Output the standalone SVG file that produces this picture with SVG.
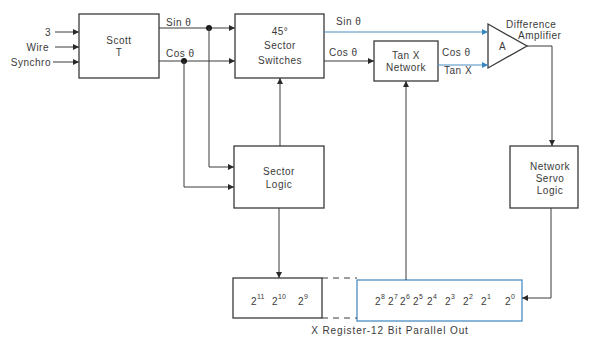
<svg xmlns="http://www.w3.org/2000/svg" width="596" height="346" viewBox="0 0 596 346">
<defs>
<style>
text{font-family:"Liberation Sans",Arial,sans-serif;font-size:10px;fill:#3a3a3a;letter-spacing:0.5px}
.c{text-anchor:middle}
.e{text-anchor:end}
.box{fill:none;stroke:#3a3a3a;stroke-width:1.3}
.bbox{fill:none;stroke:#4a8fc4;stroke-width:1.3}
.ln{fill:none;stroke:#3a3a3a;stroke-width:1}
.bl{fill:none;stroke:#4a8fc4;stroke-width:1.1}
.ds{fill:none;stroke:#3a3a3a;stroke-width:1;stroke-dasharray:6,5}
.sup{font-size:7px;letter-spacing:0}
</style>
<marker id="ah" viewBox="0 0 10 10" refX="10" refY="5" markerWidth="7" markerHeight="6" markerUnits="userSpaceOnUse" orient="auto">
<path d="M0,0L10,5L0,10z" fill="#2a2a2a"/>
</marker>
<marker id="ahb" viewBox="0 0 10 10" refX="10" refY="5" markerWidth="7" markerHeight="6" markerUnits="userSpaceOnUse" orient="auto">
<path d="M0,0L10,5L0,10z" fill="#3a86bd"/>
</marker>
</defs>
<rect width="596" height="346" fill="#ffffff"/>

<g id="inputs">
<text x="51" y="36" class="e">3</text>
<text x="49" y="51" class="e">Wire</text>
<text x="51" y="66" class="e">Synchro</text>
</g>

<g id="scott-t">
<rect x="79" y="14" width="80" height="64" class="box"/>
<text x="119" y="44" class="c">Scott</text>
<text x="119" y="56" class="c">T</text>
</g>

<g id="sector-switches">
<rect x="235" y="14" width="89" height="64" class="box"/>
<text x="280" y="35" class="c">45°</text>
<text x="280" y="49" class="c">Sector</text>
<text x="280" y="64" class="c">Switches</text>
</g>

<g id="tanx-network">
<rect x="374" y="41" width="64" height="40" class="box"/>
<text x="406" y="59" class="c">Tan X</text>
<text x="406" y="71" class="c">Network</text>
</g>

<g id="difference-amplifier">
<path d="M488,24L527,46L488,68z" class="box"/>
<text x="499" y="50">A</text>
<text x="506" y="28">Difference</text>
<text x="518" y="39">Amplifier</text>
</g>

<g id="sector-logic">
<rect x="234" y="146" width="90" height="62" class="box"/>
<text x="279" y="175" class="c">Sector</text>
<text x="279" y="188" class="c">Logic</text>
</g>

<g id="network-servo-logic">
<rect x="510" y="146" width="68" height="62" class="box"/>
<text x="550" y="170" class="c">Network</text>
<text x="550" y="182" class="c">Servo</text>
<text x="550" y="194" class="c">Logic</text>
</g>

<g id="register-high">
<rect x="233" y="278" width="89" height="40" class="box"/>
<text x="251" y="305">2<tspan dy="-6" class="sup">11</tspan></text>
<text x="272" y="305">2<tspan dy="-6" class="sup">10</tspan></text>
<text x="298" y="305">2<tspan dy="-6" class="sup">9</tspan></text>
</g>

<g id="register-low">
<rect x="357" y="280" width="165" height="41" class="bbox"/>
<text x="375" y="305">2<tspan dy="-6" class="sup">8</tspan></text>
<text x="388" y="305">2<tspan dy="-6" class="sup">7</tspan></text>
<text x="400" y="305">2<tspan dy="-6" class="sup">6</tspan></text>
<text x="413" y="305">2<tspan dy="-6" class="sup">5</tspan></text>
<text x="427" y="305">2<tspan dy="-6" class="sup">4</tspan></text>
<text x="445" y="305">2<tspan dy="-6" class="sup">3</tspan></text>
<text x="463" y="305">2<tspan dy="-6" class="sup">2</tspan></text>
<text x="481" y="305">2<tspan dy="-6" class="sup">1</tspan></text>
<text x="505" y="305">2<tspan dy="-6" class="sup">0</tspan></text>
<text x="390" y="334" class="c" style="letter-spacing:0.9px">X Register-12 Bit Parallel Out</text>
</g>

<g id="connectors">
<line x1="55" y1="32" x2="79" y2="32" class="ln" marker-end="url(#ah)"/>
<line x1="55" y1="47" x2="79" y2="47" class="ln" marker-end="url(#ah)"/>
<line x1="53" y1="62" x2="79" y2="62" class="ln" marker-end="url(#ah)"/>

<line x1="159" y1="28" x2="235" y2="28" class="ln" marker-end="url(#ah)"/>
<line x1="159" y1="61" x2="235" y2="61" class="ln" marker-end="url(#ah)"/>
<text x="166" y="26">Sin θ</text>
<text x="166" y="57">Cos θ</text>
<circle cx="209" cy="28" r="3" fill="#1a1a1a"/>
<circle cx="184" cy="61" r="3" fill="#1a1a1a"/>
<path d="M209,28V167H234" class="ln" marker-end="url(#ah)"/>
<path d="M184,61V187H234" class="ln" marker-end="url(#ah)"/>
<line x1="280" y1="146" x2="280" y2="78" class="ln" marker-end="url(#ah)"/>
<line x1="279" y1="208" x2="279" y2="278" class="ln" marker-end="url(#ah)"/>

<line x1="324" y1="32" x2="488" y2="32" class="bl" marker-end="url(#ahb)"/>
<text x="336" y="25">Sin θ</text>
<line x1="324" y1="61" x2="374" y2="61" class="ln" marker-end="url(#ah)"/>
<text x="329" y="56">Cos θ</text>
<line x1="438" y1="65" x2="488" y2="65" class="bl" marker-end="url(#ahb)"/>
<text x="442" y="56">Cos θ</text>
<text x="444" y="74">Tan X</text>
<line x1="406" y1="280" x2="406" y2="81" class="ln" marker-end="url(#ah)"/>

<path d="M527,46H552V146" class="ln" marker-end="url(#ah)"/>
<path d="M551,208V298H522" class="ln" marker-end="url(#ah)"/>

<line x1="322" y1="278" x2="357" y2="278" class="ds"/>
<line x1="322" y1="318" x2="357" y2="318" class="ds"/>
</g>
</svg>
